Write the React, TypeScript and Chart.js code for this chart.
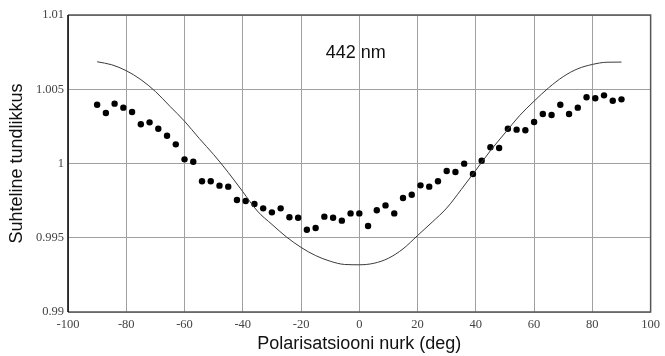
import { useEffect, useRef } from 'react';
import { Chart, registerables } from 'chart.js';

Chart.register(...registerables);

// Polarisation angle of each measurement (deg)
const angles = [
  -90, -87, -84, -81, -78, -75, -72, -69, -66, -63, -60, -57, -54, -51, -48, -45,
  -42, -39, -36, -33, -30, -27, -24, -21, -18, -15, -12, -9, -6, -3, 0, 3, 6, 9,
  12, 15, 18, 21, 24, 27, 30, 33, 36, 39, 42, 45, 48, 51, 54, 57, 60, 63, 66, 69,
  72, 75, 78, 81, 84, 87, 90,
];

// Measured relative sensitivity at 442 nm
const measured = [
  1.00396, 1.0034, 1.00403, 1.00376, 1.00347, 1.00264, 1.00277, 1.00234, 1.00187,
  1.00129, 1.00028, 1.00012, 0.9988, 0.9988, 0.99851, 0.99844, 0.99754, 0.99747,
  0.99727, 0.99698, 0.99671, 0.99698, 0.99638, 0.99635, 0.99554, 0.99566, 0.99642,
  0.99635, 0.99615, 0.99664, 0.99664, 0.99579, 0.99685, 0.99718, 0.99664, 0.99768,
  0.9979, 0.99853, 0.99844, 0.9988, 0.99949, 0.99943, 0.99999, 0.99929, 1.00019,
  1.00109, 1.00104, 1.00234, 1.00228, 1.00224, 1.00279, 1.00333, 1.00327, 1.00396,
  1.00333, 1.00376, 1.00446, 1.00439, 1.00459, 1.00423, 1.00432,
];

// Model curve sampled every 5 degrees
const modelAngles = [
  -90, -85, -80, -75, -70, -65, -60, -55, -50, -45, -40, -35, -30, -25, -20, -15,
  -10, -5, 0, 5, 10, 15, 20, 25, 30, 35, 40, 45, 50, 55, 60, 65, 70, 75, 80, 85, 90,
];
const modelValues = [
  1.00685, 1.00665, 1.00625, 1.00565, 1.00485, 1.00385, 1.00285, 1.0017, 1.0006,
  0.9994, 0.9981, 0.9968, 0.9959, 0.99505, 0.99435, 0.9938, 0.99342, 0.9932,
  0.99318, 0.99328, 0.99362, 0.99425, 0.99515, 0.99605, 0.997, 0.99825, 0.99955,
  1.00086, 1.00205, 1.00322, 1.0042, 1.0051, 1.00585, 1.00638, 1.00667, 1.00682,
  1.00683,
];

const xTicks = [-100, -80, -60, -40, -20, 0, 20, 40, 60, 80, 100];
const yTicks = [0.99, 0.995, 1, 1.005, 1.01];
const yTickLabels = ['0.99', '0.995', '1', '1.005', '1.01'];

const wavelengthLabel = '442 nm';
const labelAt = { x: -11.5, y: 1.00746 };

const xTitle = 'Polarisatsiooni nurk (deg)';
const yTitle = 'Suhteline tundlikkus';

const sansFamily = '"Liberation Sans", Arial, sans-serif';
const serifFamily = '"Liberation Serif", "Times New Roman", serif';

const framePlugin = {
  id: 'frame',
  beforeDatasetsDraw(chart: any) {
    const { ctx, chartArea } = chart;
    const { left, right, top, bottom } = chartArea;
    ctx.save();
    ctx.lineWidth = 1.5;
    ctx.strokeStyle = '#555';
    ctx.beginPath();
    ctx.moveTo(left, top);
    ctx.lineTo(right, top);
    ctx.lineTo(right, bottom);
    ctx.lineTo(left, bottom);
    ctx.stroke();
    ctx.strokeStyle = '#000';
    ctx.beginPath();
    ctx.moveTo(left, top);
    ctx.lineTo(left, bottom);
    ctx.stroke();
    ctx.restore();
  },
  afterDraw(chart: any) {
    const { ctx, scales } = chart;
    const x = scales.x.getPixelForValue(labelAt.x);
    const y = scales.y.getPixelForValue(labelAt.y);
    ctx.save();
    ctx.font = `18px ${sansFamily}`;
    ctx.fillStyle = '#111';
    ctx.textAlign = 'left';
    ctx.textBaseline = 'middle';
    ctx.fillText(wavelengthLabel, x, y);
    ctx.restore();
  },
};

export default function App() {
  const canvasRef = useRef<HTMLCanvasElement | null>(null);

  useEffect(() => {
    const canvas = canvasRef.current;
    if (!canvas) return;
    const chart = new Chart(canvas, {
      type: 'scatter',
      data: {
        datasets: [
          {
            type: 'line',
            data: modelAngles.map((a, i) => ({ x: a, y: modelValues[i] })),
            borderColor: '#3a3a3a',
            borderWidth: 1,
            pointRadius: 0,
            cubicInterpolationMode: 'monotone',
            fill: false,
          },
          {
            type: 'scatter',
            data: angles.map((a, i) => ({ x: a, y: measured[i] })),
            backgroundColor: '#000',
            borderColor: '#000',
            borderWidth: 0,
            pointRadius: 3.2,
          },
        ],
      } as any,
      plugins: [framePlugin],
      options: {
        responsive: false,
        animation: false,
        events: [],
        layout: { padding: { left: 0, right: 12, top: 15, bottom: 0 } },
        plugins: {
          legend: { display: false },
          tooltip: { enabled: false },
        },
        scales: {
          x: {
            type: 'linear',
            min: -100,
            max: 100,
            afterBuildTicks: (scale: any) => {
              scale.ticks = xTicks.map((v) => ({ value: v }));
            },
            afterFit: (scale: any) => {
              scale.height = 44;
            },
            grid: { color: '#a0a0a0', lineWidth: 1, drawTicks: false },
            border: { display: false },
            ticks: {
              padding: 5,
              color: '#444',
              font: { family: serifFamily, size: 12.5 },
              maxRotation: 0,
              callback: (v: any) => String(v),
            },
            title: {
              display: true,
              text: xTitle,
              color: '#111',
              font: { family: sansFamily, size: 18 },
              padding: { top: 0, bottom: 1 },
            },
          },
          y: {
            type: 'linear',
            min: 0.99,
            max: 1.01,
            afterBuildTicks: (scale: any) => {
              scale.ticks = yTicks.map((v) => ({ value: v }));
            },
            afterFit: (scale: any) => {
              scale.width = 68;
            },
            grid: { color: '#a0a0a0', lineWidth: 1, drawTicks: false },
            border: { display: false },
            ticks: {
              padding: 4,
              color: '#444',
              font: { family: serifFamily, size: 12.5 },
              callback: (v: any) => {
                const i = yTicks.findIndex((t) => Math.abs(t - Number(v)) < 1e-9);
                return i >= 0 ? yTickLabels[i] : '';
              },
            },
            title: {
              display: true,
              text: yTitle,
              color: '#111',
              font: { family: sansFamily, size: 18 },
              padding: { top: 6, bottom: 0 },
            },
          },
        },
      } as any,
    });
    return () => chart.destroy();
  }, []);

  return (
    <div
      style={{
        position: 'fixed',
        left: 0,
        top: 0,
        width: 665,
        height: 356,
        background: '#fff',
      }}
    >
      <canvas ref={canvasRef} width={665} height={356} style={{ display: 'block' }} />
    </div>
  );
}
